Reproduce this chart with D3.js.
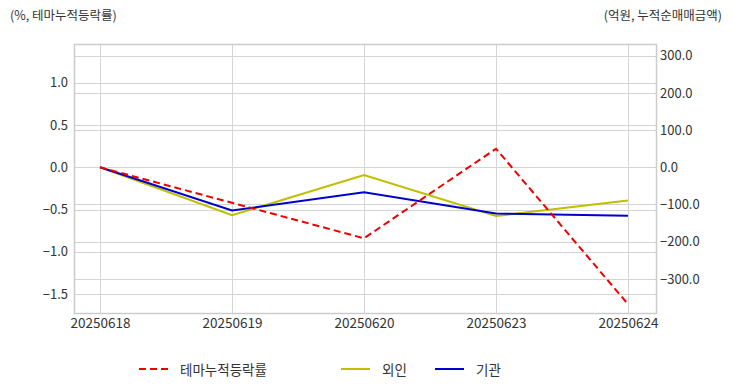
<!DOCTYPE html>
<html>
<head>
<meta charset="utf-8">
<script src="https://cdn.jsdelivr.net/npm/d3@7"></script>
<style>
  body { margin: 0; background: #fff; }
  svg text { font-family: "Noto Sans CJK KR", "Noto Sans", sans-serif; fill: #333; }
</style>
</head>
<body>
<div id="chart"></div>
<script>
// data
const dates = ["20250618", "20250619", "20250620", "20250623", "20250624"];
const themeRate = [0, -0.42, -0.84, 0.22, -1.62];      // %, left axis
const foreign = [0, -129, -21, -131, -89];              // 억원, right axis
const institution = [0, -116, -67, -124, -130];         // 억원, right axis
const leftTicks = [-1.5, -1.0, -0.5, 0.0, 0.5, 1.0];
const rightTicks = [-300, -200, -100, 0, 100, 200, 300];

const svgWidth = 732, svgHeight = 392;
const plot = { left: 74, right: 656, top: 44, bottom: 313 };

const svg = d3.select("#chart").append("svg")
    .attr("width", svgWidth)
    .attr("height", svgHeight);

// scales
const x = d3.scalePoint()
    .domain(dates)
    .range([100, 628]);

const yLeft = d3.scaleLinear()
    .domain([-1.724, 1.459])
    .range([plot.bottom, plot.top]);

const yRight = d3.scaleLinear()
    .domain([-391.7, 331.5])
    .range([plot.bottom, plot.top]);

// grid lines
const grid = svg.append("g").attr("stroke", "#d4d4d4").attr("stroke-width", 1);
leftTicks.forEach(t => {
    grid.append("line")
        .attr("x1", plot.left).attr("x2", plot.right)
        .attr("y1", Math.round(yLeft(t)) + 0.5).attr("y2", Math.round(yLeft(t)) + 0.5);
});
rightTicks.forEach(t => {
    grid.append("line")
        .attr("x1", plot.left).attr("x2", plot.right)
        .attr("y1", Math.round(yRight(t)) + 0.5).attr("y2", Math.round(yRight(t)) + 0.5);
});
dates.forEach(d => {
    grid.append("line")
        .attr("x1", Math.round(x(d)) + 0.5).attr("x2", Math.round(x(d)) + 0.5)
        .attr("y1", plot.top).attr("y2", plot.bottom);
});

// frame
svg.append("rect")
    .attr("x", plot.left + 0.5)
    .attr("y", plot.top + 0.5)
    .attr("width", plot.right - plot.left)
    .attr("height", plot.bottom - plot.top)
    .style("fill", "none")
    .style("stroke", "#cccccc")
    .style("stroke-width", 1.5);

// axes
const leftAxis = svg.append("g")
    .attr("transform", "translate(" + plot.left + ",0)")
    .call(d3.axisLeft(yLeft).tickValues(leftTicks).tickFormat(d3.format(".1f")).tickSize(0).tickPadding(6));

const rightAxis = svg.append("g")
    .attr("transform", "translate(" + plot.right + ",0)")
    .call(d3.axisRight(yRight).tickValues(rightTicks).tickFormat(d3.format(".1f")).tickSize(0).tickPadding(4));

const bottomAxis = svg.append("g")
    .attr("transform", "translate(0," + plot.bottom + ")")
    .call(d3.axisBottom(x).tickSize(0).tickPadding(5));

[leftAxis, rightAxis].forEach(a => {
    a.select(".domain").remove();
    a.selectAll("text").style("font-size", "13px").style("fill", "#333");
});
bottomAxis.select(".domain").remove();
bottomAxis.selectAll("text").style("font-size", "13.5px").style("fill", "#333");

// lines
const lineLeft = d3.line().x((d, i) => x(dates[i])).y(d => yLeft(d));
const lineRight = d3.line().x((d, i) => x(dates[i])).y(d => yRight(d));

svg.append("path")
    .datum(foreign)
    .attr("d", lineRight)
    .attr("fill", "none")
    .attr("stroke", "#bfbf00")
    .attr("stroke-width", 2);

svg.append("path")
    .datum(institution)
    .attr("d", lineRight)
    .attr("fill", "none")
    .attr("stroke", "#0000cc")
    .attr("stroke-width", 2);

svg.append("path")
    .datum(themeRate)
    .attr("d", lineLeft)
    .attr("fill", "none")
    .attr("stroke", "#ee0000")
    .attr("stroke-width", 2)
    .attr("stroke-dasharray", "7,4");

// axis titles
svg.append("text")
    .attr("x", 10).attr("y", 20)
    .style("font-size", "12.5px")
    .text("(%, 테마누적등락률)");

svg.append("text")
    .attr("x", 722).attr("y", 20)
    .attr("text-anchor", "end")
    .style("font-size", "12.5px")
    .text("(억원, 누적순매매금액)");

// legend
const legendItems = [
    { name: "테마누적등락률", color: "#ee0000", dash: "7,4", x: 139 },
    { name: "외인", color: "#bfbf00", dash: null, x: 341 },
    { name: "기관", color: "#0000cc", dash: null, x: 435 }
];
legendItems.forEach(item => {
    svg.append("line")
        .attr("x1", item.x).attr("x2", item.x + 29)
        .attr("y1", 369).attr("y2", 369)
        .attr("stroke", item.color)
        .attr("stroke-width", 2)
        .attr("stroke-dasharray", item.dash);
    svg.append("text")
        .attr("x", item.x + 41).attr("y", 374.5)
        .style("font-size", "13.5px")
        .text(item.name);
});
</script>
</body>
</html>
